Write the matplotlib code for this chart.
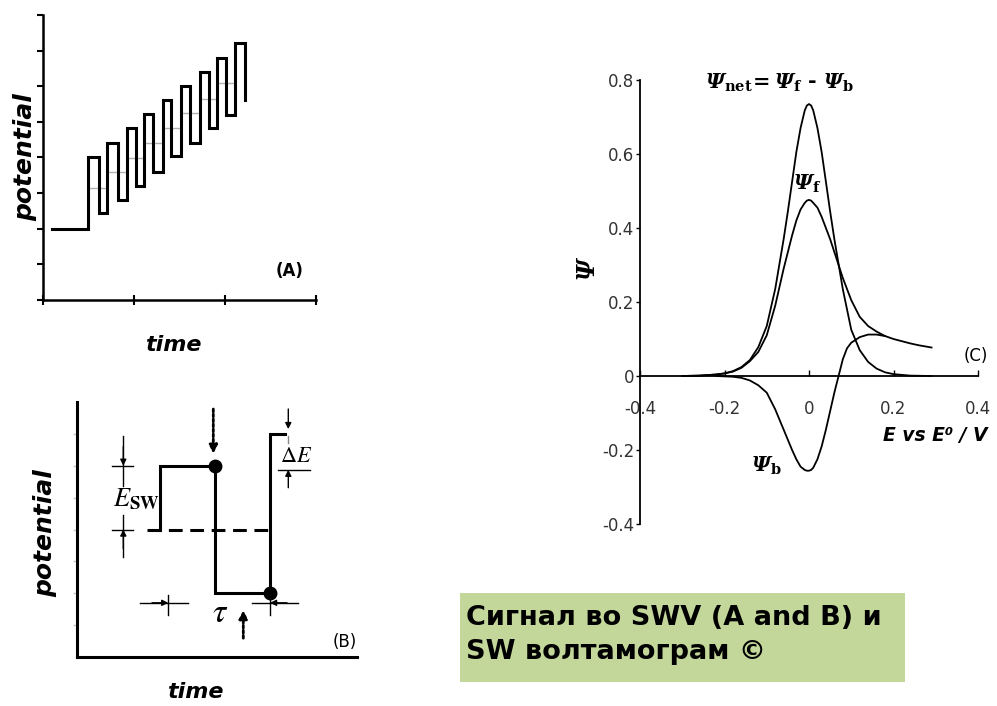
import matplotlib
matplotlib.use('Agg')
import matplotlib.pyplot as plt
from matplotlib.patches import Rectangle

plt.rcParams['font.family'] = ['DejaVu Sans']
plt.rcParams['axes.unicode_minus'] = False
plt.rcParams['mathtext.fontset'] = 'custom'
plt.rcParams['mathtext.rm'] = 'DejaVu Serif:italic:bold'
plt.rcParams['mathtext.it'] = 'DejaVu Serif:italic:bold'
plt.rcParams['mathtext.bf'] = 'DejaVu Serif:bold'

# ---- panel A: square wave on a staircase ----
a_start, a_base = 0.1, 2.0
a_t_up = [0.49, 0.70, 0.92, 1.11, 1.32, 1.52, 1.72, 1.91, 2.11]
a_t_down = [0.61, 0.82, 1.02, 1.21, 1.41, 1.62, 1.82, 2.01, 2.22]
a_top = [4.0, 4.4, 4.82, 5.22, 5.62, 6.01, 6.40, 6.79, 7.21]
a_bottom = [2.44, 2.81, 3.21, 3.60, 4.03, 4.40, 4.82, 5.20]
a_end = 5.62
a_stair = [3.14, 3.59, 3.98, 4.42, 4.84, 5.24, 5.64, 6.09]

# ---- panel B: one square-wave cycle ----
b_wave_t = [8.3, 8.3, 13.8, 13.8, 19.3, 19.3, 20.8]
b_wave_e = [4.0, 6.0, 6.0, 2.0, 2.0, 7.0, 7.0]
b_dash_t = [7.0, 19.3]
b_dash_e = [4.0, 4.0]
b_dot_t = [13.8, 19.3]
b_dot_e = [6.0, 2.0]

# ---- panel C: SW voltammogram ----
E_net = [-0.30, -0.26, -0.22, -0.20, -0.18, -0.16, -0.14, -0.12, -0.10, -0.08,
         -0.06, -0.05, -0.04, -0.03, -0.02, -0.01, -0.005, 0.00, 0.005, 0.01, 0.02, 0.03,
         0.04, 0.05, 0.06, 0.08, 0.10, 0.12, 0.14, 0.16, 0.18, 0.20, 0.24, 0.29]
psi_net = [0.0, 0.001, 0.004, 0.007, 0.013, 0.024, 0.043, 0.078, 0.135, 0.235,
           0.37, 0.445, 0.525, 0.605, 0.67, 0.718, 0.731, 0.735, 0.731, 0.718, 0.67, 0.605,
           0.525, 0.445, 0.37, 0.235, 0.125, 0.07, 0.038, 0.02, 0.01, 0.005, 0.001, 0.0]
E_f = [-0.30, -0.26, -0.22, -0.20, -0.18, -0.16, -0.14, -0.12, -0.10, -0.08,
       -0.06, -0.04, -0.03, -0.02, -0.01, -0.005, 0.00, 0.005, 0.01, 0.02, 0.03, 0.04,
       0.05, 0.06, 0.08, 0.10, 0.12, 0.14, 0.16, 0.18, 0.20, 0.22, 0.24, 0.26, 0.29]
psi_f = [0.0, 0.001, 0.004, 0.007, 0.012, 0.022, 0.04, 0.065, 0.11, 0.19,
         0.29, 0.38, 0.42, 0.45, 0.468, 0.474, 0.476, 0.474, 0.468, 0.455, 0.43, 0.40,
         0.37, 0.335, 0.265, 0.205, 0.16, 0.135, 0.12, 0.108, 0.10, 0.094, 0.088, 0.083, 0.077]
E_b = [-0.22, -0.18, -0.16, -0.14, -0.12, -0.10, -0.08, -0.06, -0.04, -0.03,
       -0.02, -0.01, -0.005, 0.00, 0.005, 0.01, 0.02, 0.03, 0.04, 0.05, 0.06, 0.07,
       0.08, 0.09, 0.10, 0.12, 0.14, 0.16, 0.18]
psi_b = [0.0, -0.002, -0.005, -0.012, -0.025, -0.045, -0.09, -0.145, -0.20, -0.225,
         -0.245, -0.254, -0.256, -0.256, -0.254, -0.248, -0.225, -0.19, -0.145, -0.095, -0.045, 0.0,
         0.045, 0.075, 0.09, 0.105, 0.112, 0.112, 0.108]
c_xticks = [-0.4, -0.2, 0, 0.2, 0.4]
c_xlabels = ['-0.4', '-0.2', '0', '0.2', '0.4']
c_yticks = [-0.4, -0.2, 0, 0.2, 0.4, 0.6, 0.8]
c_ylabels = ['-0.4', '-0.2', '0', '0.2', '0.4', '0.6', '0.8']

W, H = 997, 706
fig = plt.figure(figsize=(W / 100, H / 100), dpi=100)


def px_axes(x0, y0, x1, y1):
    ax = fig.add_axes([x0 / W, 1 - y1 / H, (x1 - x0) / W, (y1 - y0) / H])
    ax.patch.set_visible(False)
    ax.spines['top'].set_visible(False)
    ax.spines['right'].set_visible(False)
    return ax


def ftext(px, py, s, **kw):
    return fig.text(px / W, 1 - py / H, s, **kw)


def arrow(ax, x0, y0, x1, y1, lw=1.0, ls='-', ms=9):
    ax.annotate('', xy=(x1, y1), xytext=(x0, y0), annotation_clip=False,
                arrowprops=dict(arrowstyle='-|>', color='black', lw=lw, ls=ls,
                                shrinkA=0, shrinkB=0, mutation_scale=ms))


# panel A
axA = px_axes(43, 15, 316, 300)
axA.set_xlim(0, 3)
axA.set_ylim(0, 8)
for s in ['left', 'bottom']:
    axA.spines[s].set_linewidth(1.8)
axA.set_xticks([0, 1, 2, 3])
axA.set_yticks(range(9))
axA.tick_params(axis='y', direction='out', length=4, width=1.5, labelleft=False)
axA.tick_params(axis='x', direction='inout', length=7, width=1.5, labelbottom=False)

for i, lvl in enumerate(a_stair):
    axA.plot([a_t_up[i], a_t_up[i + 1]], [lvl, lvl], color='#b0b0b0', lw=1, zorder=1)

xs = [a_start, a_t_up[0]]
ys = [a_base, a_base]
for i in range(len(a_top)):
    low = a_bottom[i] if i < len(a_bottom) else a_end
    xs += [a_t_up[i], a_t_down[i], a_t_down[i]]
    ys += [a_top[i], a_top[i], low]
    if i + 1 < len(a_t_up):
        xs.append(a_t_up[i + 1])
        ys.append(low)
axA.plot(xs, ys, color='black', lw=2.2, solid_joinstyle='miter', zorder=2)
axA.text(2.71, 0.81, '(A)', fontsize=12, fontweight='bold', ha='center', va='center')
ftext(25, 157, 'potential', rotation=90, fontsize=18, fontweight='bold',
      style='italic', ha='center', va='center')
ftext(173, 345, 'time', fontsize=16, fontweight='bold', style='italic',
      ha='center', va='center')

# panel B
axB = px_axes(77, 402, 357, 657)
axB.set_xlim(0, 28)
axB.set_ylim(0, 8)
for s in ['left', 'bottom']:
    axB.spines[s].set_linewidth(2.2)
axB.set_xticks([])
axB.set_yticks(range(1, 8))
axB.tick_params(axis='y', direction='out', length=3, width=1, color='#c0c0c0', labelleft=False)

axB.plot(b_dash_t, b_dash_e, color='black', lw=2.2, dashes=(4.5, 2.5))
axB.plot(b_wave_t, b_wave_e, color='black', lw=2.2, solid_joinstyle='miter')
axB.plot(b_dot_t, b_dot_e, 'o', color='black', ms=9)

# E_sw marker
axB.plot([4.63, 4.63], [5.35, 6.94], color='black', lw=1)
axB.plot([4.63, 4.63], [3.13, 4.45], color='black', lw=1)
axB.plot([3.47, 5.63], [6.0, 6.0], color='black', lw=1)
axB.plot([3.47, 5.63], [4.0, 4.0], color='black', lw=1)
arrow(axB, 4.63, 6.6, 4.63, 6.0, lw=1, ms=9)
arrow(axB, 4.63, 3.4, 4.63, 4.0, lw=1, ms=9)
axB.text(3.6, 4.95, r'$E_{\mathbf{SW}}$', math_fontfamily='stix', fontsize=19,
         ha='left', va='center')

# dotted sampling arrows
arrow(axB, 13.63, 7.78, 13.63, 6.38, lw=2, ls=(0, (1, 0.8)), ms=12)
arrow(axB, 16.63, 0.59, 16.63, 1.47, lw=2, ls=(0, (1, 0.8)), ms=12)

# tau marker
axB.plot([6.3, 11.13], [1.70, 1.70], color='black', lw=1)
axB.plot([9.13, 9.13], [1.31, 1.94], color='black', lw=1)
arrow(axB, 7.5, 1.70, 9.13, 1.70, lw=1, ms=9)
axB.plot([17.47, 22.13], [1.70, 1.70], color='black', lw=1)
axB.plot([19.3, 19.3], [1.31, 1.91], color='black', lw=1)
arrow(axB, 21.0, 1.70, 19.3, 1.70, lw=1, ms=9)
axB.text(14.3, 1.4, r'$\tau$', math_fontfamily='stix', fontsize=24,
         ha='center', va='center')

# delta E marker
arrow(axB, 21.13, 7.78, 21.13, 7.15, lw=1, ms=9)
axB.plot([21.13, 21.13], [6.72, 6.94], color='#888888', lw=1)
axB.text(21.9, 6.3, r'$\Delta E$', math_fontfamily='stix', fontsize=16,
         ha='center', va='center')
axB.plot([20.1, 23.3], [5.875, 5.875], color='black', lw=1)
arrow(axB, 21.13, 5.31, 21.13, 5.875, lw=1, ms=9)
axB.text(26.8, 0.47, '(B)', fontsize=12, ha='center', va='center')
ftext(45, 533, 'potential', rotation=90, fontsize=18, fontweight='bold',
      style='italic', ha='center', va='center')
ftext(195, 692, 'time', fontsize=16, fontweight='bold', style='italic',
      ha='center', va='center')

# panel C
axC = px_axes(640, 80, 978, 524)
axC.set_xlim(-0.4, 0.4)
axC.set_ylim(-0.4, 0.8)
axC.spines['bottom'].set_position(('data', 0))
for s in ['left', 'bottom']:
    axC.spines[s].set_linewidth(1.3)
axC.set_xticks(c_xticks)
axC.set_xticklabels(c_xlabels)
axC.set_yticks(c_yticks)
axC.set_yticklabels(c_ylabels)
axC.tick_params(axis='x', direction='in', length=4, width=1, pad=17,
                labelsize=12, labelcolor='#333333')
axC.tick_params(axis='y', direction='out', length=3, width=1, pad=1,
                labelsize=12, labelcolor='#333333')

axC.plot(E_net, psi_net, color='black', lw=1.3)
axC.plot(E_f, psi_f, color='black', lw=1.3)
axC.plot(E_b, psi_b, color='black', lw=1.3)

ftext(780, 83, r'$\Psi_{\mathbf{net}}\!=\Psi_{\mathbf{f}}$ - $\Psi_{\mathbf{b}}$',
      fontsize=15, fontweight='bold', ha='center', va='center')
ftext(588, 268, r'$\Psi$', rotation=90, fontsize=17, ha='center', va='center')
ftext(807, 184, r'$\Psi_{\mathbf{f}}$', fontsize=15, ha='center', va='center')
ftext(766, 466, r'$\Psi_{\mathbf{b}}$', fontsize=15, ha='center', va='center')
ftext(976, 356, '(C)', fontsize=12, ha='center', va='center')
ftext(987, 435, 'E vs E⁰ / V', fontsize=13.5, fontweight='bold', style='italic',
      ha='right', va='center')

# caption box
fig.patches.append(Rectangle((460 / W, 1 - 682 / H), 445 / W, 89 / H,
                             transform=fig.transFigure, facecolor='#c4d79b',
                             edgecolor='none', zorder=0))
ftext(466, 618, 'Сигнал во SWV (A and B) и', fontsize=19.5, fontweight='bold',
      ha='left', va='center')
ftext(466, 652, 'SW волтамограм ©', fontsize=19.5, fontweight='bold',
      ha='left', va='center')

fig.savefig('out.png', dpi=100)
